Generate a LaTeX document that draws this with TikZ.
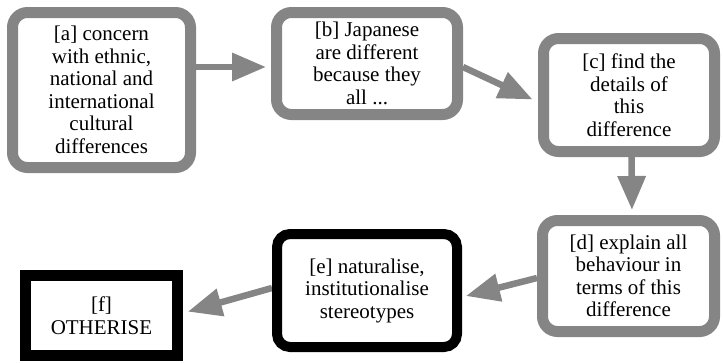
\documentclass[tikz,border=0pt]{standalone}
\usepackage{fontspec}
\setmainfont{Liberation Serif}
\newfontfamily\boxfont{Liberation Serif}
\usetikzlibrary{arrows.meta}
\pgfdeclarelayer{bg}
\pgfsetlayers{bg,main}
\definecolor{stipple}{gray}{0.52}

\begin{document}
\begin{tikzpicture}[x=1pt,y=-1pt,
  every node/.style={font=\boxfont\fontsize{21}{22.5}\selectfont, align=center, inner sep=0pt},
  softbox/.style={draw=stipple, line width=11pt, rounded corners=15pt, fill=white},
  hardbox/.style={draw=black, fill=white},
  flow/.style={draw=stipple, line width=6.5pt, -{Triangle[length=34pt,width=27pt]}}
]
\useasboundingbox (0,0) rectangle (723,362);

% stages of the argument
\node[softbox, minimum width=178pt, minimum height=155pt] (a) at (101.5,90)
  {[a] concern\\with ethnic,\\national and\\international\\cultural\\differences};
\node[softbox, minimum width=181pt, minimum height=102pt] (b) at (367,63.5)
  {[b] Japanese\\are different\\because they\\all ...};
\node[softbox, minimum width=171pt, minimum height=113pt] (c) at (629,95)
  {[c] find the\\details of\\this\\difference};
\node[softbox, minimum width=172pt, minimum height=111pt] (d) at (628.5,276)
  {[d] explain all\\behaviour in\\terms of this\\difference};
\node[hardbox, line width=10pt, rounded corners=13pt, minimum width=180pt, minimum height=113pt] (e) at (367,290.5)
  {[e] naturalise,\\institutionalise\\stereotypes};
\node[hardbox, line width=11pt, minimum width=152pt, minimum height=80pt] (f) at (101.5,315.5)
  {[f]\\OTHERISE};

% connecting arrows, kept under the boxes
\begin{pgfonlayer}{bg}
  \draw[flow, shorten >=5pt] ([yshift=23pt]a.east) -- ([yshift=-3.5pt]b.west);
  \draw[flow, shorten >=6pt] ([yshift=-3.5pt]b.east) -- ([yshift=-7pt]c.west);
  \draw[flow, shorten >=5pt] ([xshift=2.5pt]c.south) -- ([xshift=3.5pt]d.north);
  \draw[flow, shorten >=4pt] ([yshift=-2pt]d.west) -- ([yshift=-6.5pt]e.east);
  \draw[flow, shorten >=5pt] ([yshift=2.5pt]e.west) -- ([yshift=2.5pt]f.east);
\end{pgfonlayer}
\end{tikzpicture}
\end{document}
